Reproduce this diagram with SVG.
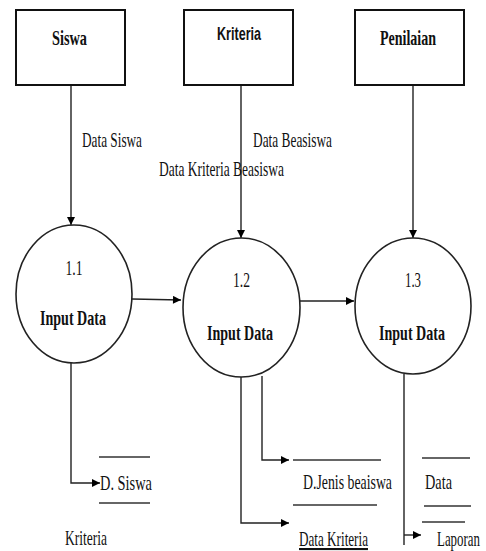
<svg xmlns="http://www.w3.org/2000/svg" width="486" height="551" viewBox="0 0 486 551">
  <defs>
    <marker id="arrow" viewBox="0 0 10 10" refX="10" refY="5" markerWidth="9" markerHeight="8" markerUnits="userSpaceOnUse" orient="auto">
      <path d="M0,0 L10,5 L0,10 Z" fill="#000"/>
    </marker>
    <style>
      .box { fill: #fff; stroke: #111; stroke-width: 2; }
      .proc { fill: #fff; stroke: #222; stroke-width: 1.6; }
      .flow { fill: none; stroke: #222; stroke-width: 1.4; }
      .arr { marker-end: url(#arrow); }
      .store { stroke: #333; stroke-width: 1.6; }
      text { font-family: "Liberation Serif", "Times New Roman", serif; fill: #111; }
      .title { font-size: 22px; font-weight: bold; }
      .lbl { font-size: 21px; }
      .num { font-size: 22px; text-anchor: middle; }
      .pname { font-size: 22px; font-weight: bold; }
    </style>
  </defs>

  <rect width="486" height="551" fill="#fff"/>

  <!-- connectors -->
  <g id="connectors">
    <line class="flow arr" x1="71" y1="85" x2="71" y2="225"/>
    <line class="flow arr" x1="241" y1="85" x2="241" y2="238"/>
    <line class="flow arr" x1="413" y1="85" x2="413" y2="238"/>
    <line class="flow arr" x1="132" y1="299" x2="181" y2="300"/>
    <line class="flow arr" x1="300" y1="301" x2="354" y2="301"/>
    <polyline class="flow arr" points="71,363 71,483 100,483"/>
    <polyline class="flow arr" points="262,376 262,460 289,460"/>
    <polyline class="flow arr" points="241,377 241,523 289,523"/>
    <line class="flow" x1="404" y1="374" x2="404" y2="545"/>
    <line class="flow arr" x1="404" y1="535" x2="421" y2="535"/>
    <text class="lbl" x="82" y="147" textLength="60" lengthAdjust="spacingAndGlyphs">Data Siswa</text>
    <text class="lbl" x="253" y="147" textLength="79" lengthAdjust="spacingAndGlyphs">Data Beasiswa</text>
    <text class="lbl" x="159" y="176" textLength="125" lengthAdjust="spacingAndGlyphs">Data Kriteria Beasiswa</text>
  </g>

  <!-- external entities -->
  <g id="siswa">
    <rect class="box" x="16" y="10" width="109" height="75"/>
    <text class="title" x="52" y="45" textLength="35" lengthAdjust="spacingAndGlyphs">Siswa</text>
  </g>
  <g id="kriteria">
    <rect class="box" x="184" y="10" width="109" height="75"/>
    <text class="title" x="217" y="40" textLength="44" lengthAdjust="spacingAndGlyphs" style="font-family:'Liberation Sans', Arial, sans-serif;font-size:19px">Kriteria</text>
  </g>
  <g id="penilaian">
    <rect class="box" x="355" y="10" width="109" height="75"/>
    <text class="title" x="380" y="45" textLength="56" lengthAdjust="spacingAndGlyphs">Penilaian</text>
  </g>

  <!-- processes -->
  <g id="proc-1-1">
    <ellipse class="proc" cx="74" cy="294" rx="58" ry="69"/>
    <text class="num" x="74" y="275" textLength="17" lengthAdjust="spacingAndGlyphs">1.1</text>
    <text class="pname" x="40" y="325" textLength="66" lengthAdjust="spacingAndGlyphs">Input Data</text>
  </g>
  <g id="proc-1-2">
    <ellipse class="proc" cx="241.5" cy="307.5" rx="58.5" ry="69.5"/>
    <text class="num" x="241.5" y="287" textLength="17" lengthAdjust="spacingAndGlyphs">1.2</text>
    <text class="pname" x="207" y="340" textLength="66" lengthAdjust="spacingAndGlyphs">Input Data</text>
  </g>
  <g id="proc-1-3">
    <ellipse class="proc" cx="413" cy="306" rx="58" ry="68"/>
    <text class="num" x="413" y="287" textLength="16" lengthAdjust="spacingAndGlyphs">1.3</text>
    <text class="pname" x="379" y="340" textLength="66" lengthAdjust="spacingAndGlyphs">Input Data</text>
  </g>

  <!-- data stores -->
  <g id="store-siswa">
    <line class="store" x1="99" y1="457" x2="150" y2="457"/>
    <line class="store" x1="99" y1="503" x2="150" y2="503"/>
    <text class="lbl" x="100" y="490" textLength="52" lengthAdjust="spacingAndGlyphs">D. Siswa</text>
  </g>
  <g id="store-kriteria">
    <text class="lbl" x="65" y="545" textLength="42" lengthAdjust="spacingAndGlyphs">Kriteria</text>
  </g>
  <g id="store-jenis-beasiswa">
    <line class="store" x1="293" y1="460" x2="381" y2="460"/>
    <line class="store" x1="293" y1="505" x2="377" y2="505"/>
    <text class="lbl" x="303" y="489" textLength="89" lengthAdjust="spacingAndGlyphs">D.Jenis beaiswa</text>
  </g>
  <g id="store-data-kriteria">
    <text class="lbl" x="299" y="546" textLength="69" lengthAdjust="spacingAndGlyphs" text-decoration="underline">Data Kriteria</text>
  </g>
  <g id="store-data">
    <line class="store" x1="422" y1="458" x2="470" y2="458"/>
    <line class="store" x1="424" y1="506" x2="471" y2="506"/>
    <text class="lbl" x="425" y="489" textLength="27" lengthAdjust="spacingAndGlyphs">Data</text>
  </g>
  <g id="store-laporan">
    <line class="store" x1="422" y1="522" x2="465" y2="522"/>
    <text class="lbl" x="437" y="546" textLength="43" lengthAdjust="spacingAndGlyphs">Laporan</text>
  </g>
</svg>
